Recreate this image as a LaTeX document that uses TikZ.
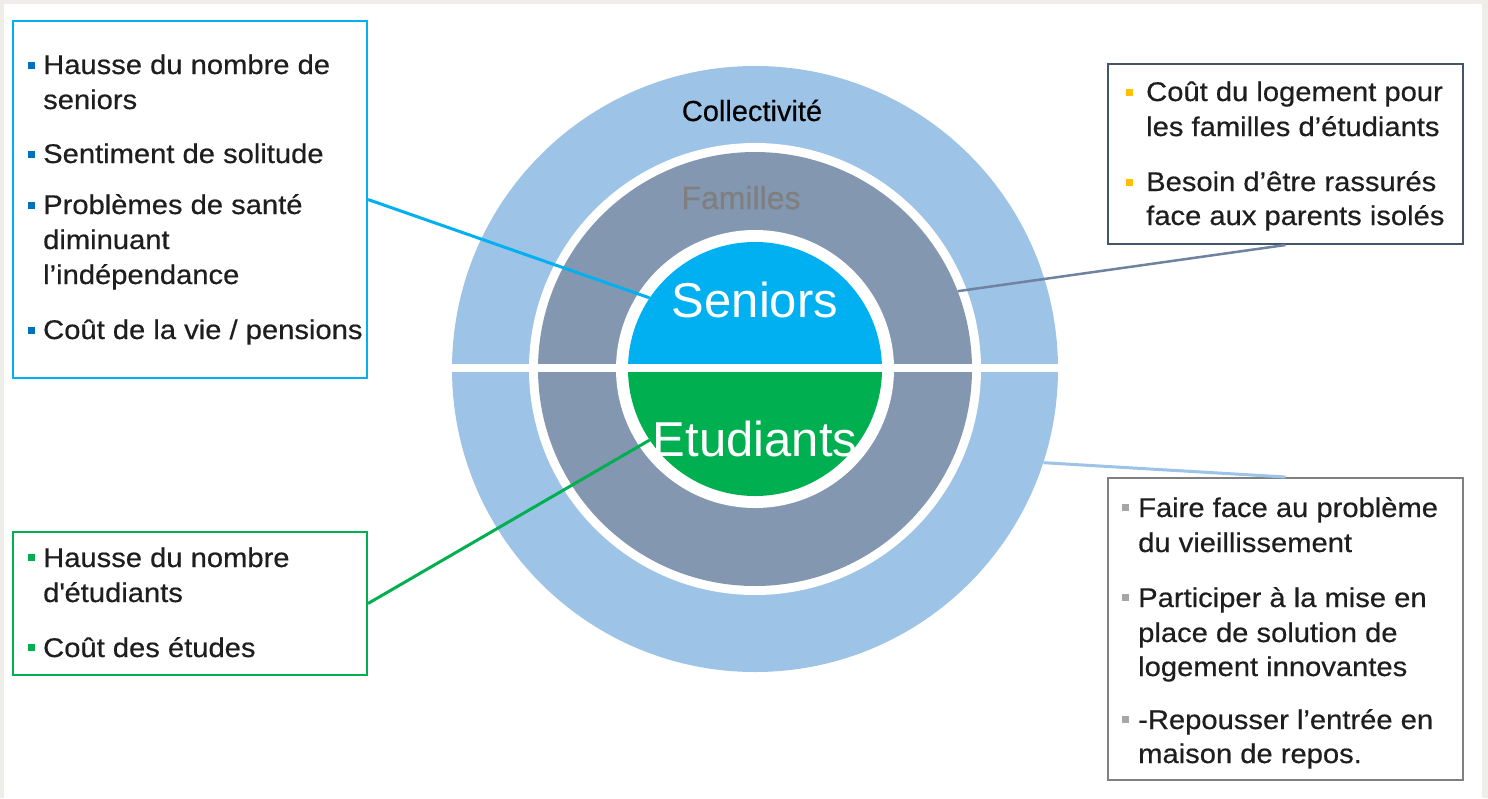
\documentclass[tikz,border=0pt]{standalone}
\usepackage{fontspec}
\setmainfont{Liberation Sans}
\newfontfamily\boxfnt[FakeStretch=1.08,FakeBold=0.5]{Liberation Sans}
\newfontfamily\labfnt[FakeBold=0.4]{Liberation Sans}
\definecolor{pageframe}{HTML}{EEEDEA}
\definecolor{collblue}{HTML}{9DC3E6}
\definecolor{famgrey}{HTML}{8497B0}
\definecolor{senblue}{HTML}{00B0F0}
\definecolor{etugreen}{HTML}{00B050}
\definecolor{bulblue}{HTML}{0070C0}
\definecolor{bulorange}{HTML}{FFC000}
\definecolor{bulgrey}{HTML}{A6A6A6}
\definecolor{frameslate}{HTML}{44546A}
\definecolor{framegrey}{HTML}{808080}
\definecolor{txtdark}{HTML}{1E1E1E}
\definecolor{famtxt}{HTML}{7F7F7F}
\definecolor{connslate}{HTML}{6F82A0}
\begin{document}
\begin{tikzpicture}[x=1pt,y=-1pt,
  boxline/.style={text=txtdark, font=\boxfnt\fontsize{27}{35}\selectfont, anchor=base west, inner sep=0pt},
  bul/.style={rectangle, minimum size=7pt, inner sep=0pt},
  infobox/.style={rectangle, line width=2pt, fill=white, inner sep=0pt},
  ring/.style={circle, inner sep=0pt, draw=none},
  conn/.style={line width=3pt},
  biglabel/.style={anchor=base, inner sep=0pt}
]
\useasboundingbox (0,0) rectangle (1488,798);
\fill[pageframe] (0,0) rectangle (1488,798);
\fill[white] (4,4) rectangle (1482,798);

% concentric circles
\node[ring, fill=collblue, minimum size=606pt] (coll) at (755,369) {};
\node[ring, fill=white, minimum size=452pt] (collin) at (755,369) {};
\node[ring, fill=famgrey, minimum size=434pt] (fam) at (755,369) {};
\node[ring, fill=white, minimum size=278pt] (famin) at (755,369) {};
\begin{scope}
  \clip (600,200) rectangle (910,369);
  \fill[senblue] (755,369) circle[radius=127pt];
\end{scope}
\begin{scope}
  \clip (600,369) rectangle (910,540);
  \fill[etugreen] (755,369) circle[radius=127pt];
\end{scope}
\node[ring, minimum size=254pt] (inner) at (755,369) {};
\fill[white] (440,364) rectangle (1070,372);

% boxes
\node[infobox, draw=senblue, minimum width=354pt, minimum height=357pt] (sbox) at (190,199.5) {};
\node[infobox, draw=frameslate, minimum width=355pt, minimum height=180pt] (obox) at (1285.5,154) {};
\node[infobox, draw=framegrey, minimum width=355pt, minimum height=302pt] (gbox) at (1285.5,629) {};
\node[infobox, draw=etugreen, minimum width=354pt, minimum height=143pt] (ebox) at (190,603.5) {};

% connectors
\draw[conn, senblue] (sbox.east) -- (inner.146);
\draw[conn, etugreen] (ebox.east) -- (inner.214);
\draw[conn, connslate, line width=2.5pt] (fam.21) -- (obox.south);
\draw[conn, collblue] (coll.-18) -- (gbox.north);

% ring labels
\node[biglabel, font=\labfnt\fontsize{29}{29}\selectfont, text=black] (lcoll) at (752,121) {Collectivité};
\node[biglabel, font=\labfnt\fontsize{32}{32}\selectfont, text=famtxt] (lfam) at (741,209) {Familles};
\node[biglabel, font=\fontsize{49}{49}\selectfont, text=white] (lsen) at (755,317) {Seniors};
\node[biglabel, font=\fontsize{49}{49}\selectfont, text=white] (letu) at (755,456) {Etudiants};

% seniors box text
\node[bul, fill=bulblue] (sb1) at (31,65) {};
\node[boxline] (s1) at (43,74) {Hausse du nombre de};
\node[boxline] (s2) at (43,109) {seniors};
\node[bul, fill=bulblue] (sb2) at (31,154) {};
\node[boxline] (s3) at (43,163) {Sentiment de solitude};
\node[bul, fill=bulblue] (sb3) at (31,205) {};
\node[boxline] (s4) at (43,214) {Problèmes de santé};
\node[boxline] (s5) at (43,249) {diminuant};
\node[boxline] (s6) at (43,284) {l’indépendance};
\node[bul, fill=bulblue] (sb4) at (31,330) {};
\node[boxline] (s7) at (43,339) {Coût de la vie / pensions};

% families box text
\node[bul, fill=bulorange] (ob1) at (1129,92) {};
\node[boxline] (o1) at (1146,101) {Coût du logement pour};
\node[boxline] (o2) at (1146,136) {les familles d’étudiants};
\node[bul, fill=bulorange] (ob2) at (1129,182) {};
\node[boxline] (o3) at (1146,191) {Besoin d’être rassurés};
\node[boxline] (o4) at (1146,225) {face aux parents isolés};

% community box text
\node[bul, fill=bulgrey] (gb1) at (1125,507) {};
\node[boxline] (g1) at (1138,517) {Faire face au problème};
\node[boxline] (g2) at (1138,552) {du vieillissement};
\node[bul, fill=bulgrey] (gb2) at (1125,597) {};
\node[boxline] (g3) at (1138,607) {Participer à la mise en};
\node[boxline] (g4) at (1138,642) {place de solution de};
\node[boxline] (g5) at (1138,676) {logement innovantes};
\node[bul, fill=bulgrey] (gb3) at (1125,719) {};
\node[boxline] (g6) at (1138,729) {-Repousser l’entrée en};
\node[boxline] (g7) at (1138,763) {maison de repos.};

% students box text
\node[bul, fill=etugreen] (eb1) at (31,557) {};
\node[boxline] (e1) at (43,567) {Hausse du nombre};
\node[boxline] (e2) at (43,602) {d\textquotesingle étudiants};
\node[bul, fill=etugreen] (eb2) at (31,647) {};
\node[boxline] (e3) at (43,657) {Coût des études};
\end{tikzpicture}
\end{document}
